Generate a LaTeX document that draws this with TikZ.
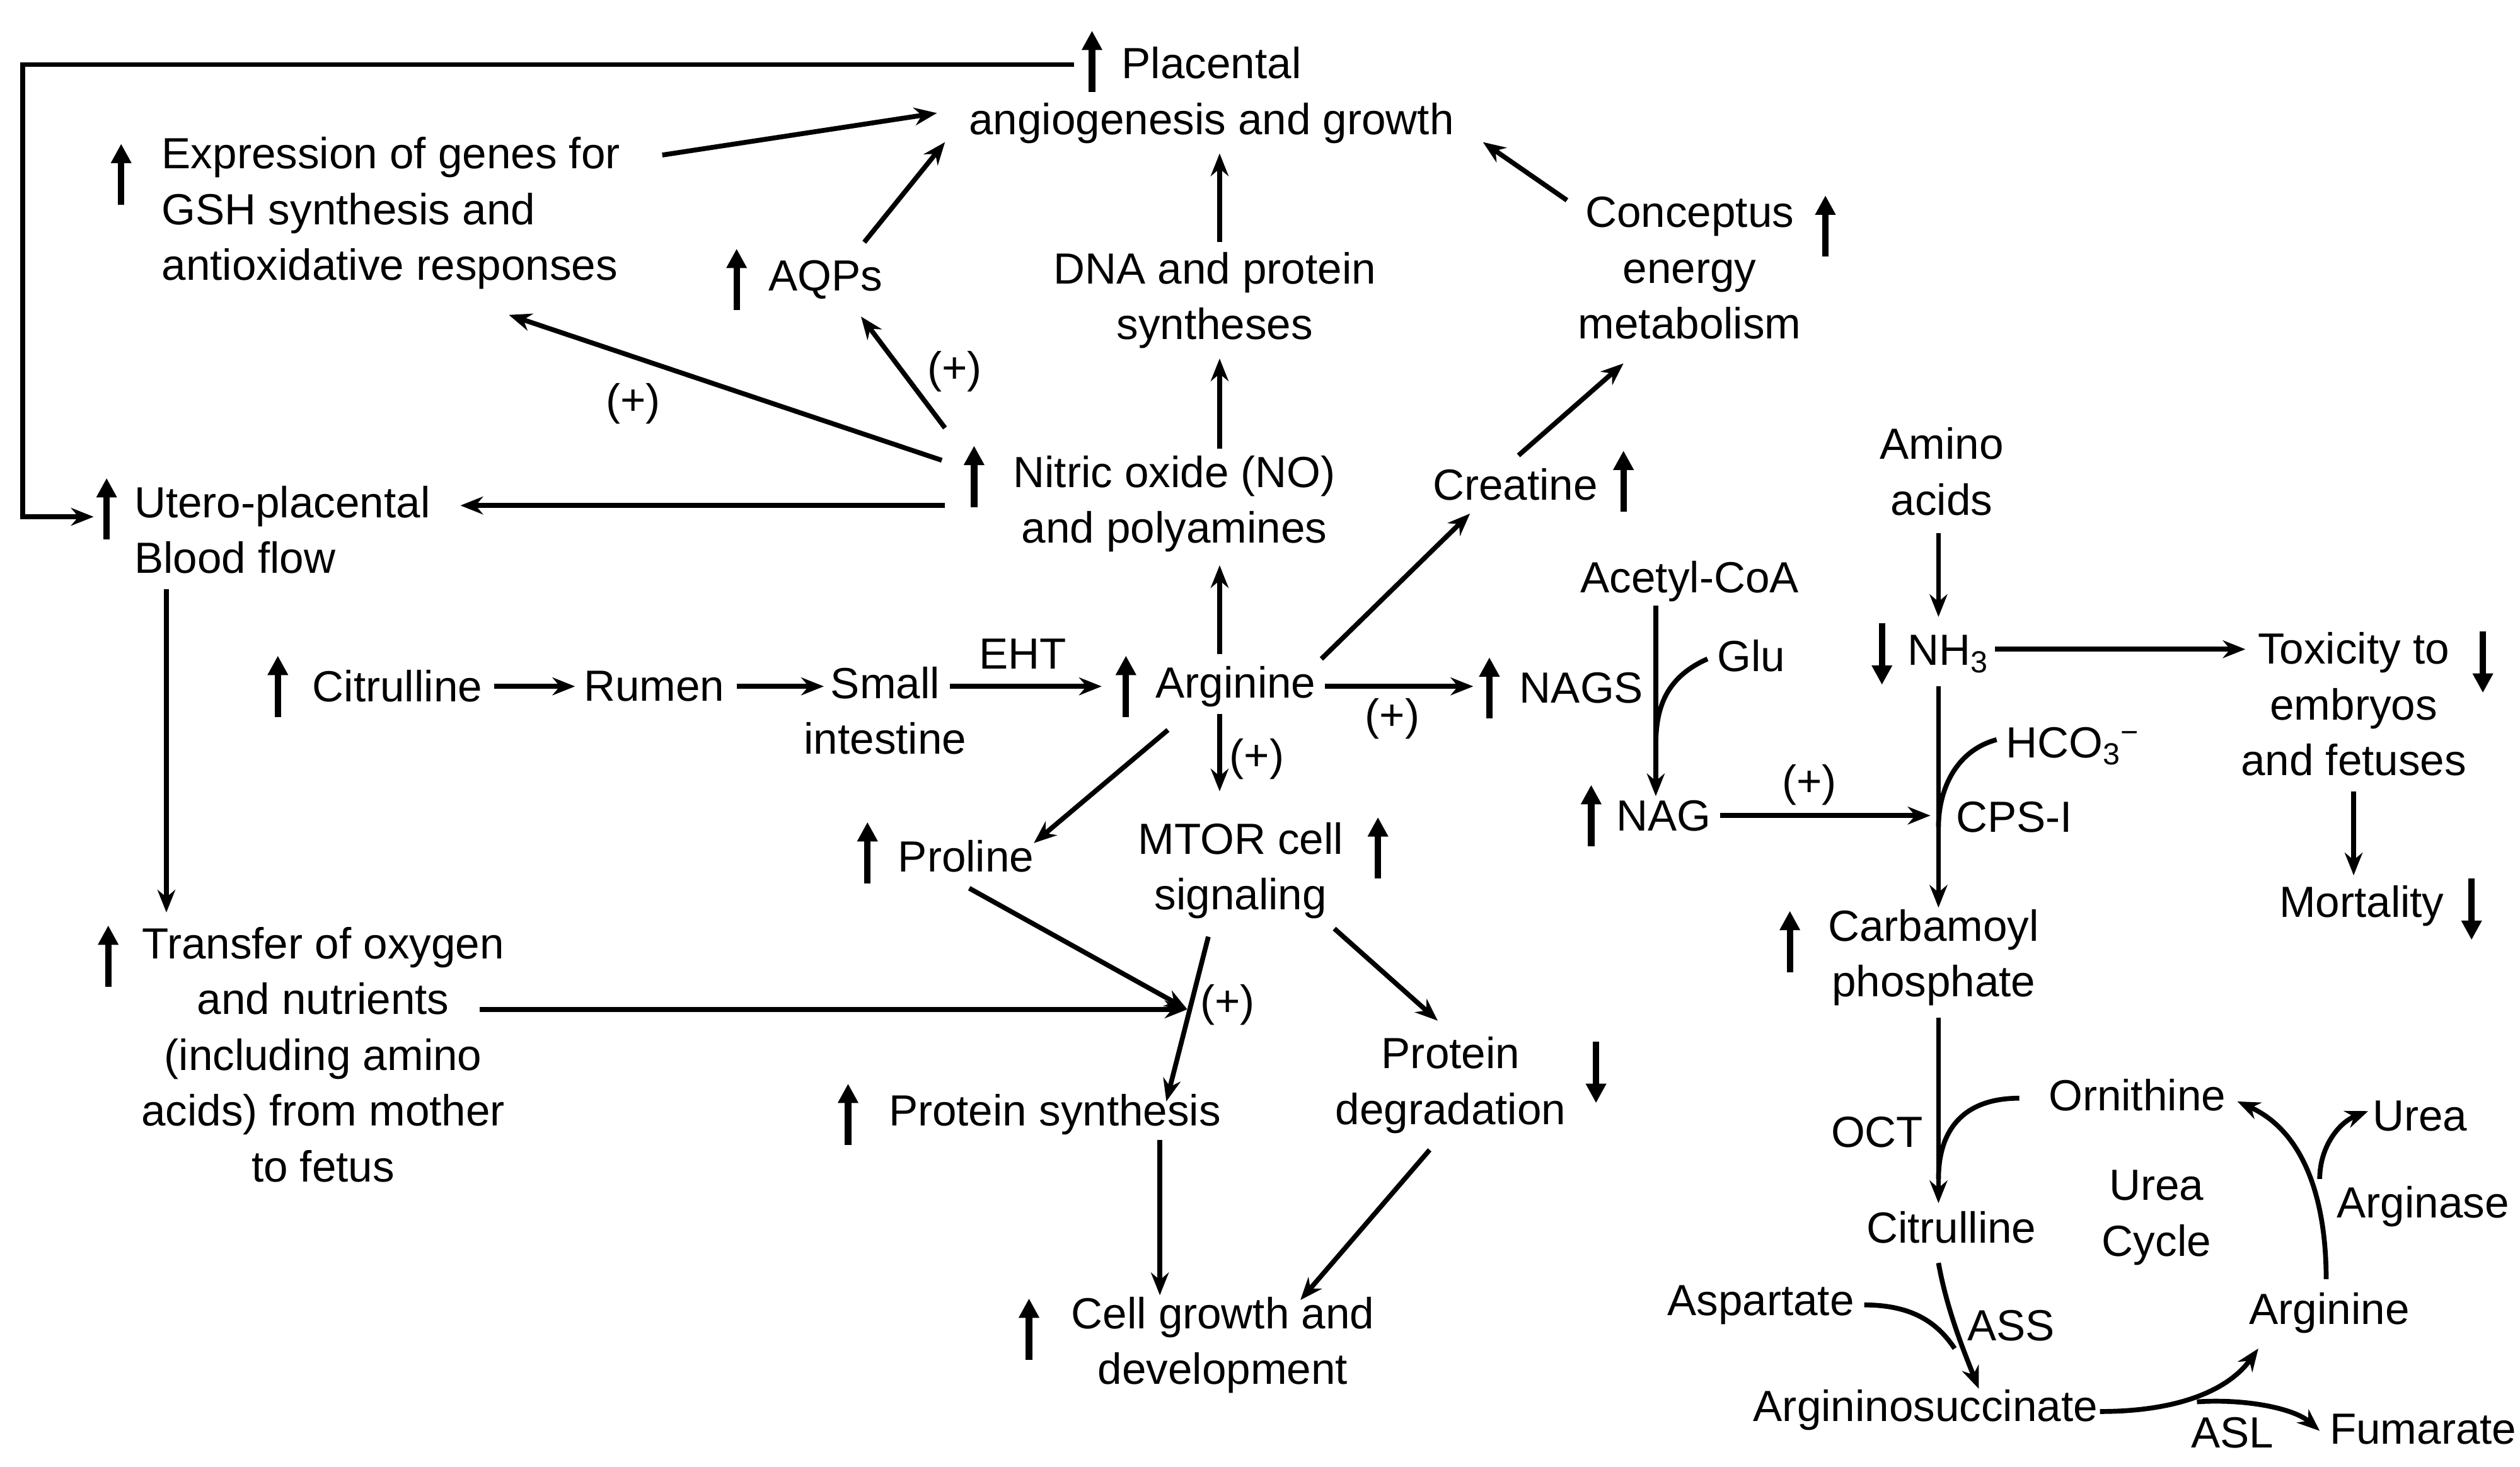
\documentclass[tikz,border=0pt]{standalone}
\usepackage{fontspec}
\setmainfont{Liberation Sans}
\usetikzlibrary{arrows.meta}
\begin{document}
\begin{tikzpicture}[x=1pt,y=-1pt,
  t/.style={inner sep=0pt,align=center,font=\fontsize{27}{34.5}\selectfont},
  c/.style={line width=3pt,-{Stealth[length=14pt,width=11pt]}},
  l/.style={line width=3pt},
  big/.style={line width=4pt,-{Triangle[length=12pt,width=12pt]}}]
\useasboundingbox (0,0) rectangle (1560,908);
\newcommand\ua[2]{\draw[big] (#1,#2+19) -- (#1,#2-19);}
\newcommand\da[2]{\draw[big] (#1,#2-19) -- (#1,#2+19);}
% nodes
\node[t] (pl) at (750,59) {Placental\\angiogenesis and growth}; \ua{676}{38}
\node[t,align=left,anchor=west] (ex) at (100,132) {Expression of genes for\\GSH synthesis and\\antioxidative responses}; \ua{75}{108}
\node[t] (aq) at (511,173) {AQPs}; \ua{456}{173}
\node[t] (dna) at (752,186) {DNA and protein\\syntheses};
\node[t] (ce) at (1046,166) {Conceptus\\energy\\metabolism}; \ua{1130}{140}
\node[t] (no) at (727,312) {Nitric oxide (NO)\\and polyamines}; \ua{603}{295}
\node[t,align=left,anchor=west] (ut) at (83,328) {Utero-placental\\Blood flow}; \ua{66}{315}
\node[t] (tr) at (200,653) {Transfer of oxygen\\and nutrients\\(including amino\\acids) from mother\\to fetus}; \ua{67}{592}
\node[t] (ci) at (246,425) {Citrulline}; \ua{172}{425}
\node[t] (ru) at (405,425) {Rumen};
\node[t] (si) at (548,440) {Small\\intestine};
\node[t] (eht) at (633,405) {EHT};
\node[t] (ar) at (765,425) {Arginine}; \ua{697}{425}
\node[t] (cr) at (938,300) {Creatine}; \ua{1005}{298}
\node[t] (nags) at (979,426) {NAGS}; \ua{922}{426}
\node[t] (mt) at (768,539) {MTOR cell\\signaling}; \ua{853}{525}
\node[t] (pr) at (598,530) {Proline}; \ua{537}{528}
\node[t] (pd) at (898,672) {Protein\\degradation}; \da{988}{664}
\node[t] (ps) at (653,690) {Protein synthesis}; \ua{525}{690}
\node[t] (cg) at (757,833) {Cell growth and\\development}; \ua{637}{823}
\node[t] (ac) at (1046,360) {Acetyl-CoA};
\node[t] (glu) at (1084,406) {Glu};
\node[t] (nag) at (1030,505) {NAG}; \ua{985}{505}
\node[t] (aa) at (1202,292) {Amino\\acids};
\node[t] (nh) at (1206,405) {NH\textsubscript{3}}; \da{1165}{405}
\node[t] (tox) at (1457,436) {Toxicity to\\embryos\\and fetuses}; \da{1537}{410}
\node[t] (mo) at (1462,561) {Mortality}; \da{1530}{563}
\node[t] (hco) at (1283,462) {HCO\textsubscript{3}\textsuperscript{−}};
\node[t] (cps) at (1247,506) {CPS-I};
\node[t] (cp) at (1197,593) {Carbamoyl\\phosphate}; \ua{1108}{583}
\node[t] (oct) at (1162,701) {OCT};
\node[t] (orn) at (1323,678) {Ornithine};
\node[t] (cit2) at (1208,760) {Citrulline};
\node[t] (uc) at (1335,754) {Urea\\Cycle};
\node[t] (asp) at (1090,808) {Aspartate};
\node[t] (ass) at (1245,821) {ASS};
\node[t] (as) at (1192,873) {Argininosuccinate};
\node[t] (asl) at (1382,887) {ASL};
\node[t] (fu) at (1500,885) {Fumarate};
\node[t] (ar2) at (1442,813) {Arginine};
\node[t] (ur) at (1498,691) {Urea};
\node[t] (arg) at (1500,747) {Arginase};
\node[t] (p1) at (591,230) {(+)};
\node[t] (p2) at (392,250) {(+)};
\node[t] (p3) at (862,445) {(+)};
\node[t] (p4) at (778,470) {(+)};
\node[t] (p5) at (1120,486) {(+)};
\node[t] (p6) at (760,622) {(+)};
% coordinates
\coordinate (tl) at (665,40);
\coordinate (j) at (735,625);
% connectors
\draw[c] (tl) -- (14,40) -- (14,320) -- (58,320);
\draw[c] (410,96) -- (580,70);
\draw[c] (535,150) -- (585,88);
\draw[c] (755,150) -- (755,95);
\draw[c] (970,124) -- (918,88);
\draw[c] (755,278) -- (755,222);
\draw[c] (585,265) -- (533,196);
\draw[c] (583,285) -- (315,195);
\draw[c] (585,313) -- (285,313);
\draw[c] (103,365) -- (103,565);
\draw[c] (297,625) -- (j);
\draw[c] (306,425) -- (356,425);
\draw[c] (456,425) -- (510,425);
\draw[c] (588,425) -- (682,425);
\draw[c] (755,405) -- (755,350);
\draw[c] (818,408) -- (910,318);
\draw[c] (940,282) -- (1005,225);
\draw[c] (820,425) -- (912,425);
\draw[c] (755,442) -- (755,490);
\draw[c] (723,452) -- (640,522);
\draw[c] (600,550) -- (j);
\draw[c] (748,580) -- (722,682);
\draw[c] (826,575) -- (890,632);
\draw[c] (718,706) -- (718,802);
\draw[c] (885,712) -- (805,805);
\draw[c] (1025,375) -- (1025,493);
\draw[l] (1057,408) .. controls (1030,420) and (1025,440) .. (1025,462);
\draw[c] (1065,505) -- (1195,505);
\draw[c] (1200,330) -- (1200,382);
\draw[c] (1235,402) -- (1390,402);
\draw[c] (1457,490) -- (1457,542);
\draw[c] (1200,425) -- (1200,562);
\draw[l] (1236,458) .. controls (1210,465) and (1200,490) .. (1200,512);
\draw[c] (1200,630) -- (1200,745);
\draw[l] (1250,680) .. controls (1215,680) and (1200,700) .. (1200,730);
\draw[c] (1200,782) .. controls (1205,810) and (1215,835) .. (1225,860);
\draw[l] (1154,808) .. controls (1185,808) and (1200,820) .. (1210,835);
\draw[c] (1300,874) .. controls (1350,874) and (1380,860) .. (1398,835);
\draw[c] (1360,868) .. controls (1390,866) and (1420,872) .. (1436,886);
\draw[c] (1440,792) .. controls (1440,740) and (1425,700) .. (1385,682);
\draw[c] (1436,730) .. controls (1436,710) and (1448,695) .. (1466,688);
\end{tikzpicture}
\end{document}
